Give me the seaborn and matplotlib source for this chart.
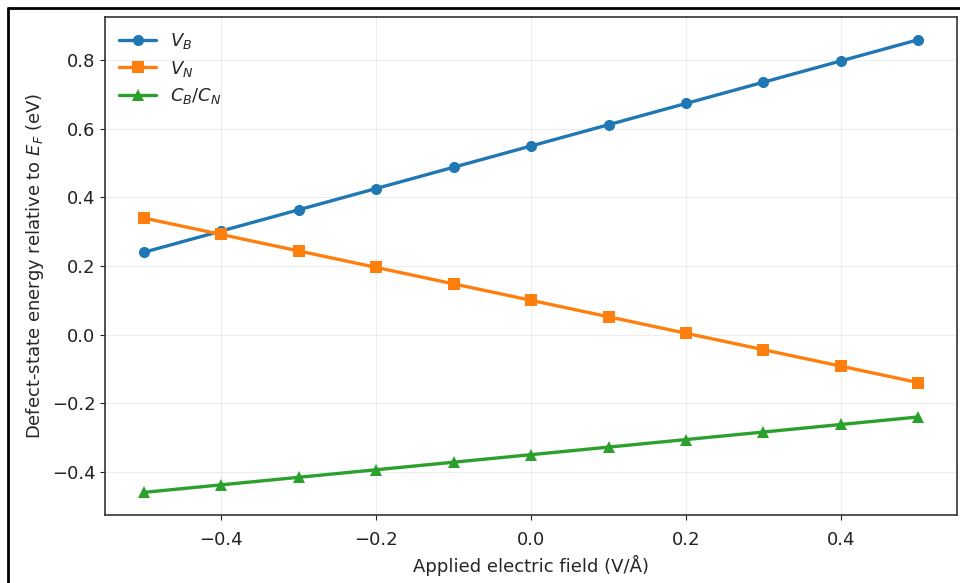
import matplotlib

matplotlib.use("Agg")
import matplotlib.pyplot as plt
import pandas as pd
import seaborn as sns
from matplotlib.lines import Line2D

# applied field (V/A) and defect-level energies (eV)
field = [-0.5, -0.4, -0.3, -0.2, -0.1, 0.0, 0.1, 0.2, 0.3, 0.4, 0.5]
e_vb = [0.240, 0.302, 0.364, 0.426, 0.488, 0.550, 0.612, 0.674, 0.736, 0.798, 0.860]
e_vn = [0.340, 0.292, 0.244, 0.196, 0.148, 0.100, 0.052, 0.004, -0.044, -0.092, -0.140]
e_cbcn = [-0.460, -0.438, -0.416, -0.394, -0.372, -0.350, -0.328, -0.306, -0.284, -0.262, -0.240]
labels = ["$V_B$", "$V_N$", "$C_B/C_N$"]

df = pd.DataFrame({"field": field, labels[0]: e_vb, labels[1]: e_vn, labels[2]: e_cbcn})
long_df = df.melt(id_vars="field", var_name="defect", value_name="energy")

sns.set_style("ticks")
plt.rcParams["font.family"] = ["DejaVu Sans"]
plt.rcParams["mathtext.fontset"] = "dejavusans"
plt.rcParams["font.size"] = 13

fig = plt.figure(figsize=(9.6, 5.83), dpi=100)
ax = fig.add_axes([0.1094, 0.1166, 0.8876, 0.8542])

palette = ["#1f77b4", "#ff7f0e", "#2ca02c"]
markers = ["o", "s", "^"]
for lab, col, mk in zip(labels, palette, markers):
    sub = long_df[long_df["defect"] == lab]
    sns.lineplot(
        data=sub,
        x="field",
        y="energy",
        ax=ax,
        color=col,
        marker=mk,
        markersize=8,
        markeredgewidth=0,
        linewidth=2.4,
        label=lab,
    )

ax.grid(True, alpha=0.35)
ax.set_xticks([-0.4, -0.2, 0.0, 0.2, 0.4])
ax.set_yticks([-0.4, -0.2, 0.0, 0.2, 0.4, 0.6, 0.8])
ax.set_xlabel("Applied electric field (V/Å)", fontsize=13)
ax.set_ylabel("Defect-state energy relative to $E_F$ (eV)", fontsize=13)
ax.tick_params(labelsize=13, colors="#222222")
ax.tick_params(axis="x", pad=8)
for sp in ax.spines.values():
    sp.set_color("#333333")
    sp.set_linewidth(1.2)
ax.legend(loc="upper left", frameon=False, fontsize=13, labelspacing=0.4,
          borderaxespad=0.4)

# screenshot frame along left and top edges
fig.add_artist(Line2D([8 / 960, 8 / 960], [0, 1 - 8 / 583], transform=fig.transFigure,
                      color="black", linewidth=2))
fig.add_artist(Line2D([8 / 960, 1], [1 - 8 / 583, 1 - 8 / 583], transform=fig.transFigure,
                      color="black", linewidth=2))

fig.savefig("out.png", dpi=100)
